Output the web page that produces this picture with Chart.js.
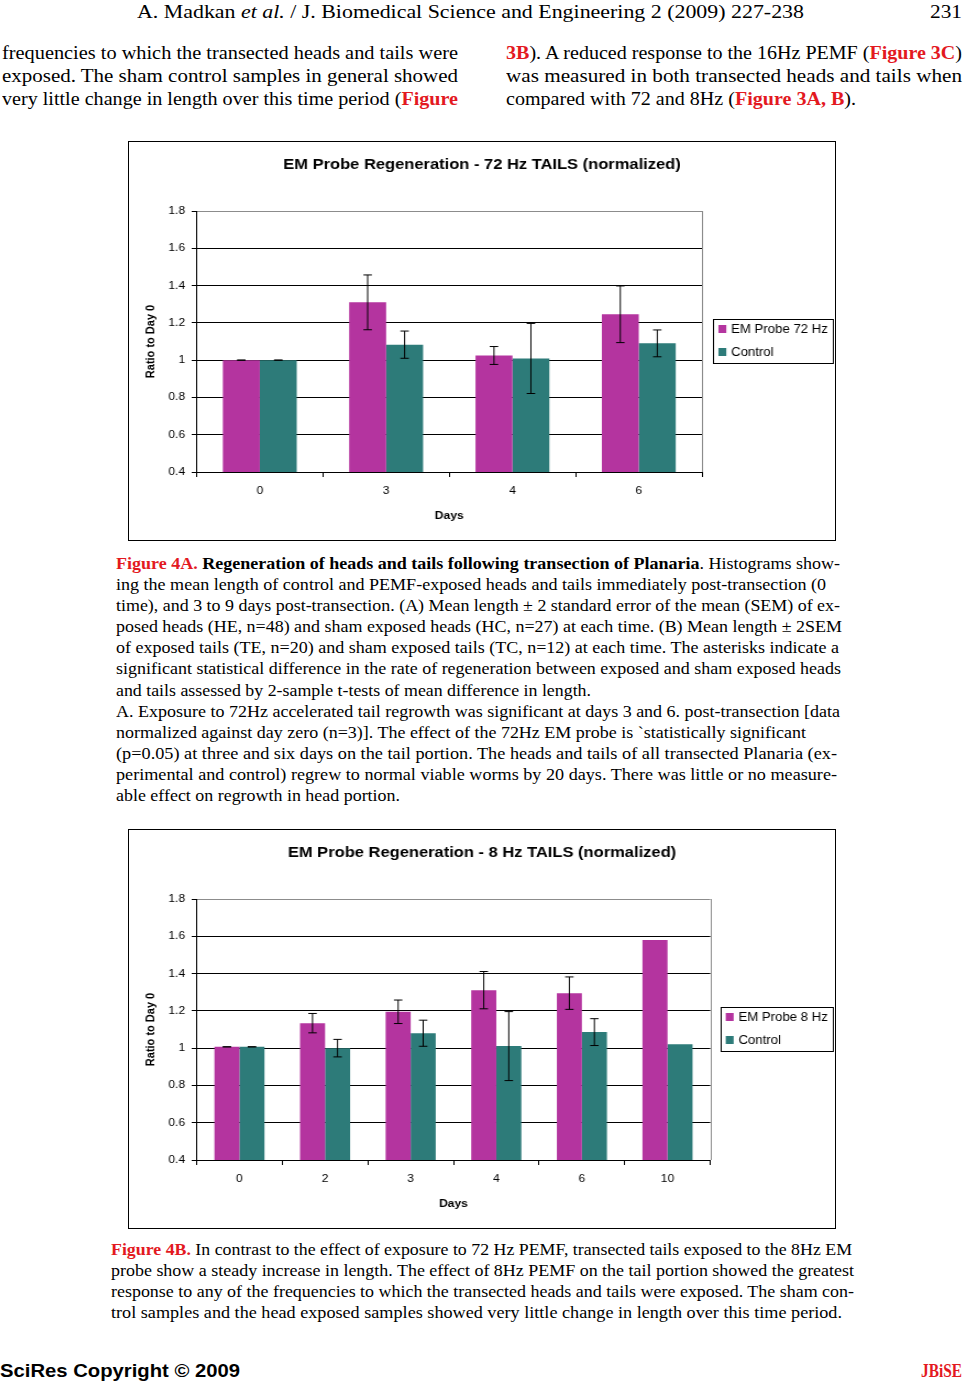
<!DOCTYPE html>
<html><head><meta charset="utf-8"><title>EM Probe Regeneration</title>
<script src="https://cdn.jsdelivr.net/npm/chart.js@4.4.1/dist/chart.umd.min.js"></script>
<style>
html,body{margin:0;padding:0;background:#fff}
body{width:966px;height:1385px;position:relative;overflow:hidden;font-family:"Liberation Serif","Times New Roman",serif;color:#000}
.ln{position:absolute;white-space:nowrap;transform-origin:0 50%}
.b{font-size:19px;line-height:22px}
.c{font-size:17.5px;line-height:21px}
.r{color:#e3191f;font-weight:bold}
.box{position:absolute;left:128px;width:706px;height:398px;border:1px solid #000;background:#fff}
.box canvas{position:absolute;left:0;top:0}
.foot{font-family:"Liberation Sans",Arial,sans-serif;font-weight:bold;font-size:19px;line-height:22px}
.jb{font-family:"Liberation Serif","Times New Roman",serif;font-weight:bold;color:#e3191f;font-size:19px;line-height:22px}
</style></head><body>
<div class="box" style="top:141px"><canvas id="c1" width="642" height="398" style="width:706px;height:398px"></canvas></div>
<div class="box" style="top:829px"><canvas id="c2" width="642" height="398" style="width:706px;height:398px"></canvas></div>
<div id="txt"></div>
<script>
// ---------- data ----------
const days72 = ["0", "3", "4", "6"];
const em72 = [1.0, 1.31, 1.025, 1.246];
const em72Err = [0, 0.147, 0.048, 0.152];
const ctrl72 = [1.0, 1.083, 1.009, 1.09];
const ctrl72Err = [0, 0.073, 0.188, 0.072];

const days8 = ["0", "2", "3", "4", "6", "10"];
const em8 = [1.007, 1.134, 1.195, 1.311, 1.295, 1.58];
const em8Err = [0, 0.052, 0.063, 0.1, 0.087, null];
const ctrl8 = [1.007, 1.0, 1.08, 1.011, 1.086, 1.021];
const ctrl8Err = [0, 0.047, 0.07, 0.185, 0.072, null];

const yTickLabels = ["0.4", "0.6", "0.8", "1", "1.2", "1.4", "1.6", "1.8"];
const yMin = 0.4, yMax = 1.8, yStep = 0.2;

const MAGENTA = '#b4349f';
const TEAL = '#2d7b79';
const FONT = '"Liberation Sans", Arial, Helvetica, sans-serif';
Chart.defaults.font.family = FONT;
Chart.defaults.color = '#000';

// ---------- plugins ----------
const errorBars = {
  id: 'errorBars',
  afterDatasetsDraw(chart, args, opts) {
    const ctx = chart.ctx, ys = chart.scales.y;
    chart.data.datasets.forEach((ds, di) => {
      if (!ds.errors) return;
      chart.getDatasetMeta(di).data.forEach((bar, i) => {
        const e = ds.errors[i];
        if (e == null) return;
        const v = ds.data[i];
        const yt = ys.getPixelForValue(v + e), yb = ys.getPixelForValue(v - e);
        const x = bar.x, hw = opts.cap / 2;
        ctx.save();
        ctx.strokeStyle = '#000'; ctx.lineWidth = opts.width;
        ctx.beginPath();
        ctx.moveTo(x, yt); ctx.lineTo(x, yb);
        ctx.moveTo(x - hw, yt); ctx.lineTo(x + hw, yt);
        ctx.moveTo(x - hw, yb); ctx.lineTo(x + hw, yb);
        ctx.stroke();
        ctx.restore();
      });
    });
  }
};

const boxLegend = {
  id: 'boxLegend',
  afterDraw(chart, args, o) {
    const ctx = chart.ctx;
    ctx.save();
    ctx.font = o.font;
    const items = chart.data.datasets.map(d => ({ text: d.label, color: d.backgroundColor }));
    const tw = Math.max(...items.map(it => ctx.measureText(it.text).width));
    const w = o.padL + o.sq + o.gap + tw + o.padR;
    const left = o.right - w, top = o.top;
    ctx.strokeStyle = '#000'; ctx.lineWidth = 1;
    ctx.strokeRect(Math.round(left) + 0.5, Math.round(top) + 0.5, Math.round(w), o.height);
    items.forEach((it, i) => {
      const cy = top + o.rows[i];
      ctx.fillStyle = it.color;
      ctx.fillRect(left + o.padL, cy - o.sqH / 2, o.sq, o.sqH);
      ctx.fillStyle = '#000'; ctx.textBaseline = 'middle'; ctx.textAlign = 'left';
      ctx.fillText(it.text, left + o.padL + o.sq + o.gap, cy + 0.5);
    });
    ctx.restore();
  }
};

const plotFrame = {
  id: 'plotFrame',
  beforeDatasetsDraw(chart) {
    const { ctx, chartArea: a } = chart;
    ctx.save();
    ctx.strokeStyle = '#8c8c8c'; ctx.lineWidth = 1;
    const x = Math.round(a.right) + 0.5;
    ctx.beginPath(); ctx.moveTo(x, a.top); ctx.lineTo(x, a.bottom); ctx.stroke();
    ctx.restore();
  }
};

function buildChart(id, o) {
  return new Chart(document.getElementById(id), {
    type: 'bar',
    data: {
      labels: o.labels,
      datasets: [
        { label: o.emLabel, data: o.em, errors: o.emErr, backgroundColor: MAGENTA, borderWidth: 0 },
        { label: 'Control', data: o.ctrl, errors: o.ctrlErr, backgroundColor: TEAL, borderWidth: 0 }
      ]
    },
    options: {
      responsive: false, animation: false, devicePixelRatio: 1, events: [],
      layout: { padding: 0 },
      datasets: { bar: { barPercentage: 1, categoryPercentage: 0.585 } },
      plugins: {
        legend: { display: false }, tooltip: { enabled: false },
        title: { display: true, text: o.title, color: '#000', font: { size: 15, weight: 'bold' }, padding: { top: 14, bottom: 37 } },
        errorBars: { cap: 7.7, width: 1 },
        boxLegend: { font: '12px ' + FONT, right: 640, top: 177, height: 44, rows: [10, 33], padL: 4.5, sq: 7.2, sqH: 8, gap: 4.3, padR: 4.5 }
      },
      scales: {
        x: {
          grid: { display: true, drawOnChartArea: false, drawTicks: true, tickLength: 5, color: '#000', offset: true },
          border: { display: true, color: '#000', width: 1 },
          ticks: { font: { size: 11 }, padding: 7.4, color: '#000', maxRotation: 0, autoSkip: false },
          title: { display: true, text: 'Days', color: '#000', font: { size: 11, weight: 'bold' }, padding: { top: 0, bottom: 17.4 } },
          afterFit: s => { s.height = 68; }
        },
        y: {
          min: yMin, max: yMax,
          ticks: { stepSize: yStep, font: { size: 11 }, padding: 6, color: '#000',
            callback: v => yTickLabels[Math.round((v - yMin) / yStep)] },
          grid: { color: c => (c.tick && c.tick.value > yMax - 0.01) ? '#8c8c8c' : '#000', tickColor: '#000', tickLength: 4.5, drawTicks: true },
          border: { display: true, color: '#000' },
          title: { display: true, text: 'Ratio to Day 0', color: '#000', font: { size: 11, weight: 'bold' }, padding: { top: 13.4, bottom: 0 } },
          afterFit: s => { s.width = 61.5; }
        },
        pad: {
          type: 'linear', position: 'right', display: true,
          grid: { display: false, drawTicks: false }, border: { display: false },
          ticks: { display: false }, title: { display: false },
          afterFit: s => { s.width = o.rightPad; }
        }
      }
    },
    plugins: [plotFrame, errorBars, boxLegend]
  });
}

buildChart('c1', { labels: days72, em: em72, emErr: em72Err, ctrl: ctrl72, ctrlErr: ctrl72Err,
  emLabel: 'EM Probe 72 Hz', title: 'EM Probe Regeneration - 72 Hz TAILS (normalized)', rightPad: 121 });
buildChart('c2', { labels: days8, em: em8, emErr: em8Err, ctrl: ctrl8, ctrlErr: ctrl8Err,
  emLabel: 'EM Probe 8 Hz', title: 'EM Probe Regeneration - 8 Hz TAILS (normalized)', rightPad: 113.4 });

// ---------- page text ----------
const lines = [
  // [class, left, yCenter, right, html]
  ['b', 137, 12, 804, 'A. Madkan <i>et al.</i> / J. Biomedical Science and Engineering 2 (2009) 227-238'],
  ['b', 930, 12, 962, '231'],
  ['b', 2, 53, 458, 'frequencies to which the transected heads and tails were'],
  ['b', 2, 76, 458, 'exposed. The sham control samples in general showed'],
  ['b', 2, 99, 458, 'very little change in length over this time period (<span class="r">Figure</span>'],
  ['b', 506, 53, 962, '<span class="r">3B</span>). A reduced response to the 16Hz PEMF (<span class="r">Figure 3C</span>)'],
  ['b', 506, 76, 962, 'was measured in both transected heads and tails when'],
  ['b', 506, 99, 856, 'compared with 72 and 8Hz (<span class="r">Figure 3A, B</span>).']
];
const cap4A = [
  '<span class="r">Figure 4A.</span> <b>Regeneration of heads and tails following transection of Planaria</b>. Histograms show-',
  'ing the mean length of control and PEMF-exposed heads and tails immediately post-transection (0',
  'time), and 3 to 9 days post-transection. (A) Mean length ± 2 standard error of the mean (SEM) of ex-',
  'posed heads (HE, n=48) and sham exposed heads (HC, n=27) at each time. (B) Mean length ± 2SEM',
  'of exposed tails (TE, n=20) and sham exposed tails (TC, n=12) at each time. The asterisks indicate a',
  'significant statistical difference in the rate of regeneration between exposed and sham exposed heads',
  'and tails assessed by 2-sample t-tests of mean difference in length.',
  'A. Exposure to 72Hz accelerated tail regrowth was significant at days 3 and 6. post-transection [data',
  'normalized against day zero (n=3)]. The effect of the 72Hz EM probe is `statistically significant',
  '(p=0.05) at three and six days on the tail portion. The heads and tails of all transected Planaria (ex-',
  'perimental and control) regrew to normal viable worms by 20 days. There was little or no measure-',
  'able effect on regrowth in head portion.'
];
const ends4A = [840, 826, 840, 842, 839, 841, 591, 840, 806, 837, 837, 400];
cap4A.forEach((t, i) => lines.push(['c', 116, 563.3 + 21.13 * i, ends4A[i], t]));
const cap4B = [
  '<span class="r">Figure 4B.</span> In contrast to the effect of exposure to 72 Hz PEMF, transected tails exposed to the 8Hz EM',
  'probe show a steady increase in length. The effect of 8Hz PEMF on the tail portion showed the greatest',
  'response to any of the frequencies to which the transected heads and tails were exposed. The sham con-',
  'trol samples and the head exposed samples showed very little change in length over this time period.'
];
const ends4B = [852, 854, 854, 842];
cap4B.forEach((t, i) => lines.push(['c', 111, 1249 + 21.1 * i, ends4B[i], t]));
lines.push(['foot', 0, 1371, 240, 'SciRes Copyright © 2009']);
lines.push(['jb', 921, 1371, 962, 'JBiSE']);

const holder = document.getElementById('txt');
lines.forEach(([cls, left, yc, right, html]) => {
  const d = document.createElement('div');
  d.className = 'ln ' + cls;
  const lh = cls === 'c' ? 21 : 22;
  d.style.left = left + 'px';
  d.style.top = (yc - lh / 2) + 'px';
  d.dataset.w = right - left;
  d.innerHTML = html;
  holder.appendChild(d);
});
function fitLines() {
  document.querySelectorAll('.ln[data-w]').forEach(el => {
    el.style.transform = 'none';
    const nat = el.getBoundingClientRect().width;
    const w = parseFloat(el.dataset.w);
    if (nat > 0) el.style.transform = 'scaleX(' + (w / nat) + ')';
  });
}
fitLines();
if (document.fonts && document.fonts.ready) document.fonts.ready.then(fitLines);
</script>
</body></html>
